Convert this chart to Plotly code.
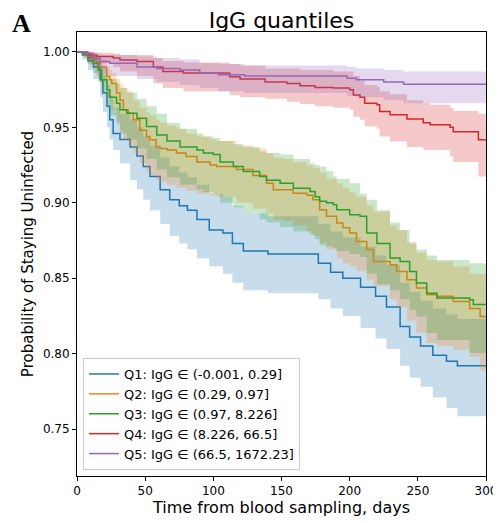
import plotly.graph_objects as go

# ---------------- data ----------------
labels = [
    "Q1: IgG \u2208 (-0.001, 0.29]",
    "Q2: IgG \u2208 (0.29, 0.97]",
    "Q3: IgG \u2208 (0.97, 8.226]",
    "Q4: IgG \u2208 (8.226, 66.5]",
    "Q5: IgG \u2208 (66.5, 1672.23]",
]
colors = ["#1f77b4", "#ff7f0e", "#2ca02c", "#d62728", "#9467bd"]
fills = ["rgba(31,119,180,0.25)", "rgba(255,127,14,0.25)", "rgba(44,160,44,0.25)",
         "rgba(214,39,40,0.25)", "rgba(148,103,189,0.25)"]

q1_t = [0, 4, 8, 12, 17, 19, 22, 24, 26.5, 31.5, 39, 44, 48.6, 53.5, 61, 68, 75, 81, 88, 97, 107, 114, 122, 140, 177, 186, 195, 208, 219, 227, 237, 244, 252, 261, 271, 279, 300]
q1_s = [1, 0.998, 0.994, 0.990, 0.9815, 0.973, 0.964, 0.955, 0.946, 0.942, 0.937, 0.931, 0.924, 0.9175, 0.9086, 0.902, 0.898, 0.895, 0.889, 0.882, 0.880, 0.873, 0.868, 0.866, 0.860, 0.854, 0.850, 0.844, 0.838, 0.831, 0.818, 0.811, 0.805, 0.799, 0.795, 0.792, 0.792]
q1_lo = [1, 0.995, 0.988, 0.982, 0.970, 0.960, 0.950, 0.942, 0.935, 0.926, 0.915, 0.909, 0.902, 0.895, 0.886, 0.878, 0.873, 0.869, 0.863, 0.858, 0.853, 0.847, 0.842, 0.840, 0.836, 0.830, 0.825, 0.817, 0.810, 0.803, 0.792, 0.784, 0.778, 0.771, 0.764, 0.7585, 0.7585]
q1_hi = [1, 1.0, 0.998, 0.996, 0.991, 0.985, 0.978, 0.971, 0.963, 0.959, 0.955, 0.950, 0.944, 0.938, 0.930, 0.924, 0.920, 0.917, 0.912, 0.906, 0.904, 0.898, 0.893, 0.891, 0.886, 0.881, 0.877, 0.871, 0.865, 0.859, 0.847, 0.841, 0.835, 0.830, 0.826, 0.823, 0.823]

q2_t = [0, 5, 9.5, 14, 17, 21.8, 24, 25.4, 29, 31.5, 34, 37.6, 41.3, 46, 51, 53.5, 58, 61, 66, 73, 80, 88, 97.6, 102.5, 117, 129, 139, 144, 151, 158.5, 168.5, 173, 178, 183, 190.5, 195, 200, 205, 212.5, 217.4, 229.6, 234.5, 242, 249, 256.5, 264, 276, 288, 295.7, 300]
q2_s = [1, 0.999, 0.997, 0.993, 0.990, 0.9837, 0.9815, 0.979, 0.9727, 0.968, 0.9616, 0.9594, 0.955, 0.948, 0.944, 0.9417, 0.937, 0.936, 0.935, 0.933, 0.9307, 0.927, 0.925, 0.924, 0.922, 0.918, 0.913, 0.9086, 0.9086, 0.9064, 0.905, 0.902, 0.8954, 0.891, 0.8866, 0.8834, 0.880, 0.8744, 0.869, 0.861, 0.859, 0.8545, 0.849, 0.8435, 0.839, 0.838, 0.8346, 0.830, 0.8247, 0.8247]
q2_lo = [1, 0.996, 0.991, 0.984, 0.979, 0.970, 0.966, 0.962, 0.954, 0.948, 0.942, 0.938, 0.933, 0.926, 0.921, 0.918, 0.915, 0.914, 0.912, 0.910, 0.908, 0.906, 0.905, 0.904, 0.900, 0.896, 0.893, 0.889, 0.8877, 0.885, 0.881, 0.878, 0.8735, 0.869, 0.863, 0.860, 0.858, 0.855, 0.849, 0.845, 0.836, 0.831, 0.822, 0.814, 0.807, 0.805, 0.8026, 0.798, 0.789, 0.789]
q2_hi = [1, 1.0, 0.999, 0.997, 0.995, 0.990, 0.988, 0.986, 0.982, 0.979, 0.976, 0.974, 0.968, 0.963, 0.960, 0.958, 0.955, 0.953, 0.951, 0.949, 0.946, 0.944, 0.942, 0.941, 0.938, 0.936, 0.933, 0.930, 0.929, 0.927, 0.925, 0.923, 0.920, 0.916, 0.913, 0.910, 0.907, 0.904, 0.898, 0.894, 0.885, 0.882, 0.874, 0.867, 0.862, 0.861, 0.858, 0.853, 0.853, 0.853]

q3_t = [0, 4, 8, 12, 15.6, 18, 22, 24, 29, 31.5, 36.5, 44, 51, 58.5, 66, 75.6, 88, 92.7, 100, 105, 114.7, 122, 134, 139, 149, 158.7, 171, 174.6, 178, 183, 188, 190.5, 200, 207.6, 212.5, 220, 229.6, 237, 244, 249, 256.5, 264, 288, 290.7, 300]
q3_s = [1, 0.999, 0.996, 0.9925, 0.988, 0.9815, 0.975, 0.970, 0.966, 0.9616, 0.9594, 0.956, 0.9506, 0.945, 0.941, 0.937, 0.935, 0.933, 0.932, 0.927, 0.924, 0.9207, 0.9175, 0.915, 0.913, 0.9097, 0.9075, 0.904, 0.901, 0.900, 0.8987, 0.8954, 0.892, 0.891, 0.880, 0.873, 0.8634, 0.861, 0.8545, 0.8468, 0.840, 0.8369, 0.8358, 0.8325, 0.8325]
q3_lo = [1, 0.997, 0.992, 0.986, 0.980, 0.972, 0.964, 0.958, 0.952, 0.946, 0.942, 0.936, 0.929, 0.922, 0.917, 0.912, 0.909, 0.907, 0.906, 0.900, 0.897, 0.893, 0.889, 0.887, 0.884, 0.881, 0.879, 0.876, 0.872, 0.871, 0.870, 0.868, 0.866, 0.864, 0.853, 0.846, 0.842, 0.836, 0.829, 0.8247, 0.8137, 0.809, 0.8005, 0.8005, 0.8005]
q3_hi = [1, 1.0, 0.999, 0.997, 0.994, 0.990, 0.986, 0.982, 0.979, 0.976, 0.973, 0.969, 0.964, 0.959, 0.9528, 0.949, 0.946, 0.944, 0.943, 0.941, 0.939, 0.937, 0.934, 0.933, 0.932, 0.929, 0.926, 0.925, 0.924, 0.921, 0.9175, 0.916, 0.913, 0.906, 0.902, 0.895, 0.887, 0.882, 0.873, 0.869, 0.865, 0.862, 0.860, 0.860, 0.860]

q4_t = [0, 8, 14.5, 26.6, 31.5, 44, 56, 63, 78, 112, 119.6, 138, 154, 163.6, 174.6, 188, 200, 202.7, 207.6, 211, 220, 222, 229.6, 242, 254, 259, 273.7, 276, 294.4, 300]
q4_s = [1, 0.998, 0.997, 0.996, 0.9947, 0.9936, 0.990, 0.987, 0.986, 0.9836, 0.982, 0.980, 0.979, 0.9775, 0.9764, 0.976, 0.975, 0.9715, 0.970, 0.966, 0.965, 0.9605, 0.9583, 0.9555, 0.953, 0.9517, 0.950, 0.947, 0.9417, 0.9417]
q4_lo = [1, 0.994, 0.9925, 0.990, 0.987, 0.984, 0.979, 0.976, 0.974, 0.9715, 0.970, 0.969, 0.967, 0.9655, 0.964, 0.963, 0.9616, 0.957, 0.955, 0.9506, 0.949, 0.944, 0.9406, 0.937, 0.935, 0.935, 0.9307, 0.927, 0.9175, 0.9175]
q4_hi = [1, 1.0, 0.9995, 0.999, 0.998, 0.998, 0.996, 0.994, 0.993, 0.992, 0.991, 0.989, 0.989, 0.988, 0.988, 0.987, 0.987, 0.984, 0.981, 0.978, 0.977, 0.974, 0.972, 0.968, 0.966, 0.965, 0.963, 0.961, 0.959, 0.959]

q5_t = [0, 7, 12, 17, 24, 44, 58.5, 75.6, 90, 103.7, 123, 198, 205, 225, 239.5, 300]
q5_s = [1, 0.999, 0.9958, 0.9936, 0.9925, 0.990, 0.989, 0.988, 0.986, 0.9848, 0.984, 0.9826, 0.9815, 0.980, 0.9786, 0.9786]
q5_lo = [1, 0.996, 0.990, 0.986, 0.984, 0.982, 0.980, 0.978, 0.976, 0.974, 0.9727, 0.971, 0.970, 0.968, 0.966, 0.965]
q5_hi = [1, 1.0, 0.999, 0.998, 0.998, 0.997, 0.996, 0.995, 0.9925, 0.992, 0.991, 0.990, 0.989, 0.988, 0.987, 0.986]

series = [
    (q1_t, q1_s, q1_lo, q1_hi),
    (q2_t, q2_s, q2_lo, q2_hi),
    (q3_t, q3_s, q3_lo, q3_hi),
    (q4_t, q4_s, q4_lo, q4_hi),
    (q5_t, q5_s, q5_lo, q5_hi),
]

x_ticks = [0, 50, 100, 150, 200, 250, 300]
y_ticks = [0.75, 0.80, 0.85, 0.90, 0.95, 1.00]

# ---------------- figure ----------------
fig = go.Figure()
for i, (t, s, lo, hi) in enumerate(series):
    fig.add_trace(go.Scatter(x=t, y=hi, mode="lines", line=dict(width=0, shape="hv"),
                             showlegend=False, hoverinfo="skip"))
    fig.add_trace(go.Scatter(x=t, y=lo, mode="lines", line=dict(width=0, shape="hv"),
                             fill="tonexty", fillcolor=fills[i], showlegend=False, hoverinfo="skip"))
    fig.add_trace(go.Scatter(x=t, y=s, mode="lines", name=labels[i],
                             line=dict(color=colors[i], width=1.5, shape="hv")))

font_family = "DejaVu Sans"
# page body has an 8px default margin; figure sized so it fits the 501x523 window
W, H = 493, 515
ML, MR, MT, MB = 69, 15, 24, 47
fig.update_layout(
    width=W, height=H,
    margin=dict(l=ML, r=MR, t=MT, b=MB, autoexpand=False),
    paper_bgcolor="white", plot_bgcolor="white",
    font=dict(family=font_family, size=12, color="black"),
    title=dict(text="IgG quantiles", x=(ML + 204.5) / W, xanchor="center",
               y=1 - 5 / H, yanchor="top",
               font=dict(size=22, family=font_family, color="black")),
    legend=dict(x=0.0147, y=0.0135, xanchor="left", yanchor="bottom", traceorder="normal",
                bgcolor="rgba(255,255,255,0.85)", bordercolor="#cccccc", borderwidth=1,
                font=dict(size=13, family=font_family), tracegroupgap=0, itemwidth=30),
    showlegend=True,
)
fig.update_xaxes(range=[0, 300], tickvals=x_ticks, ticks="outside", ticklen=4, tickcolor="black",
                 showline=True, linecolor="black", linewidth=1, mirror=True, showgrid=False, zeroline=False,
                 tickfont=dict(size=12),
                 title=dict(text="Time from blood sampling, days", font=dict(size=16), standoff=2))
fig.update_yaxes(range=[0.7189, 1.0132], tickvals=y_ticks, tickformat=".2f", ticks="outside", ticklen=4,
                 tickcolor="black", showline=True, linecolor="black", linewidth=1, mirror=True,
                 showgrid=False, zeroline=False, tickfont=dict(size=12),
                 title=dict(text="Probability of Staying Uninfected", font=dict(size=15), standoff=5))
fig.add_annotation(text="<b>A</b>", xref="paper", yref="paper", x=(3 - ML) / 409, y=1 + MT / 444,
                   xanchor="left", yanchor="top", showarrow=False, borderpad=0,
                   font=dict(family="Liberation Serif", size=26, color="black"))

fig.write_html("out.html")
